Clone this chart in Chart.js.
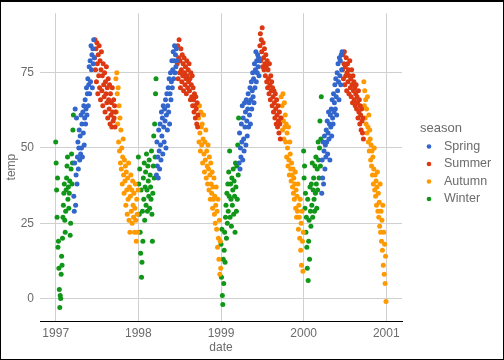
<!DOCTYPE html>
<html>
<head>
<meta charset="utf-8">
<script src="https://cdn.jsdelivr.net/npm/chart.js@4.4.1/dist/chart.umd.min.js"></script>
<style>
  body { margin: 0; background: #fff; }
  canvas { display: block; }
</style>
</head>
<body>
<canvas id="chart" width="504" height="360"></canvas>
<script>
// daily temperature, one value every 2 days
const years = [1997, 1998, 1999, 2000];
const seasons = ['Spring', 'Summer', 'Autumn', 'Winter'];
const seasonColors = ['#3366CC', '#DC3912', '#FF9900', '#109618'];
const seasonStartDay = [80, 172, 266, 0];
const dayStep = 2;

const springTemps = [
  [34, 29, 45, 63, 31, 41, 60, 38, 47, 52, 43, 50, 56, 46, 54, 48, 61, 50, 58, 47, 62, 55, 64, 51, 60, 66, 58, 63, 70, 61, 68, 73, 64, 71, 77, 68, 79, 72, 84, 76, 81, 70, 83, 78, 86, 80],
  [41, 52, 44, 47, 40, 56, 49, 43, 58, 51, 46, 62, 54, 60, 48, 64, 57, 52, 63, 59, 66, 50, 61, 68, 56, 64, 70, 62, 73, 58, 68, 75, 66, 72, 79, 70, 76, 82, 73, 79, 84, 75, 81, 77, 83, 79],
  [45, 55, 43, 50, 47, 58, 52, 64, 46, 60, 53, 49, 65, 57, 62, 51, 66, 59, 54, 63, 68, 57, 65, 61, 70, 58, 66, 72, 63, 69, 75, 67, 73, 65, 78, 70, 76, 82, 72, 79, 75, 81, 77, 80, 74, 79],
  [35, 46, 40, 52, 38, 49, 54, 43, 51, 47, 56, 52, 59, 48, 55, 62, 53, 58, 46, 61, 57, 63, 54, 66, 60, 58, 68, 62, 65, 71, 63, 73, 67, 61, 75, 69, 78, 72, 66, 80, 74, 79, 71, 81, 76, 82]
];
const summerTemps = [
  [80, 86, 76, 83, 72, 85, 78, 68, 81, 74, 84, 70, 79, 66, 76, 82, 69, 74, 64, 78, 71, 67, 75, 62, 72, 68, 77, 65, 70, 60, 73, 66, 63, 71, 58, 68, 61, 65, 57, 70, 62, 59, 66, 60, 64, 57, 62],
  [78, 84, 73, 80, 86, 75, 79, 70, 83, 76, 72, 81, 74, 78, 69, 80, 75, 71, 77, 73, 68, 79, 74, 70, 76, 72, 78, 69, 73, 66, 75, 71, 67, 74, 64, 70, 66, 62, 68, 64, 60, 67, 63, 58, 65, 57, 61],
  [84, 88, 79, 86, 82, 90, 77, 85, 80, 76, 83, 78, 74, 81, 77, 72, 79, 70, 76, 73, 68, 78, 71, 66, 74, 69, 72, 64, 70, 67, 62, 69, 65, 60, 68, 63, 58, 66, 61, 57, 64, 59, 55, 62, 58, 53, 60],
  [76, 81, 73, 78, 82, 71, 77, 74, 80, 69, 75, 78, 72, 76, 68, 74, 79, 70, 73, 67, 76, 71, 65, 74, 69, 72, 66, 70, 64, 68, 71, 63, 67, 65, 60, 69, 62, 66, 58, 64, 61, 56, 63, 59, 55, 60, 53]
];
const autumnTemps = [
  [73, 62, 75, 68, 58, 70, 52, 64, 49, 60, 45, 56, 43, 50, 38, 47, 53, 41, 35, 46, 39, 44, 31, 42, 36, 28, 40, 33, 45, 26, 37, 22, 34, 41, 29, 36, 25, 39, 31, 27, 35, 22, 30, 38, 26, 19, 33, 28, 22, 36],
  [60, 52, 64, 55, 49, 62, 57, 51, 58, 45, 53, 61, 48, 42, 52, 46, 56, 40, 49, 44, 38, 51, 43, 36, 47, 41, 33, 45, 38, 35, 42, 30, 37, 33, 40, 28, 34, 25, 31, 37, 23, 29, 17, 33, 20, 13, 26, 8, 19, 10],
  [67, 60, 64, 56, 68, 59, 53, 65, 57, 61, 52, 58, 47, 55, 50, 44, 57, 46, 41, 52, 48, 43, 39, 45, 41, 37, 43, 35, 40, 33, 38, 42, 30, 36, 27, 34, 29, 38, 23, 31, 27, 20, 33, 16, 25, 11, 29, 19, 9, 22],
  [72, 64, 69, 60, 66, 58, 63, 55, 67, 57, 52, 61, 49, 56, 53, 46, 51, 44, 49, 41, 47, 38, 43, 50, 36, 41, 34, 39, 31, 37, 42, 29, 35, 27, 32, 24, 38, 22, 29, 19, 26, 16, 31, 11, 22, 8, 18, 5, 14, -1]
];
const winterTemps = [
  [52, 45, 36, 27, 40, 17, 19, 10, 3, -3, 1, 0, 8, 14, 11, 20, 27, 31, 35, 38, 26, 22, 29, 36, 40, 44, 47, 33, 37, 30, 35, 39, 21, 25, 43, 48, 38, 45, 56, 61],
  [47, 38, 28, 43, 22, 15, 36, 7, 12, 29, 19, 40, 33, 45, 26, 37, 42, 31, 48, 36, 29, 44, 39, 34, 46, 30, 41, 37, 33, 49, 28, 19, 35, 44, 54, 40, 58, 47, 68, 73],
  [18, 7, 23, 1, -2, 13, 5, 16, 22, 12, 27, 31, 20, 35, 25, 38, 29, 42, 34, 49, 27, 38, 33, 24, 40, 31, 36, 43, 28, 39, 34, 22, 45, 37, 29, 44, 33, 51, 41, 60],
  [49, 40, 44, 30, 35, 22, 27, 17, 10, 33, 6, 19, 26, 13, 37, 29, 24, 38, 31, 45, 27, 36, 40, 33, 29, 44, 35, 47, 38, 30, 43, 36, 52, 46, 40, 50, 59, 44, 53, 67]
];
const seasonTemps = [springTemps, summerTemps, autumnTemps, winterTemps];

const xTicks = [1997, 1998, 1999, 2000, 2001];
const yTicks = [0, 25, 50, 75];

const textColor = '#6b6b6b';
const font = 'Arial, "Liberation Sans", sans-serif';

const datasets = seasons.map((name, s) => {
    const points = [];
    years.forEach((year, y) => {
        seasonTemps[s][y].forEach((temp, i) => {
            const day = seasonStartDay[s] + i * dayStep;
            points.push({ x: year + day / 365.25, y: temp });
        });
    });
    return {
        label: name,
        data: points,
        backgroundColor: seasonColors[s],
        borderWidth: 0,
        pointRadius: 2.5,
        pointHoverRadius: 2.5
    };
});

const decorations = {
    id: 'decorations',
    beforeDraw(chart) {
        const c = chart.ctx;
        c.save();
        c.fillStyle = '#fff';
        c.fillRect(0, 0, chart.width, chart.height);
        c.restore();
    },
    afterDraw(chart) {
        const c = chart.ctx;
        const area = chart.chartArea;
        c.save();
        // axis titles
        c.fillStyle = textColor;
        c.font = '12px ' + font;
        c.textAlign = 'center';
        c.textBaseline = 'middle';
        c.fillText('date', (area.left + area.right) / 2, 348);
        c.save();
        c.translate(12, (area.top + area.bottom) / 2);
        c.rotate(-Math.PI / 2);
        c.fillText('temp', 0, 0);
        c.restore();

        // legend
        c.textAlign = 'left';
        c.font = '13px ' + font;
        c.fillText('season', 420, 128);
        c.font = '12.5px ' + font;
        const rows = [146.5, 164, 181.5, 199];
        seasons.forEach((name, i) => {
            c.fillStyle = seasonColors[i];
            c.beginPath();
            c.arc(429, rows[i], 2.3, 0, Math.PI * 2);
            c.fill();
            c.fillStyle = textColor;
            c.fillText(name, 444, rows[i]);
        });

        // outer frame
        c.fillStyle = '#000';
        c.fillRect(0, 0, chart.width, 2);
        c.fillRect(0, 0, 1, chart.height);
        c.fillRect(chart.width - 1, 0, 1, chart.height);
        c.fillRect(0, chart.height - 1, chart.width, 1);
        c.restore();
    }
};

new Chart(document.getElementById('chart'), {
    type: 'scatter',
    data: { datasets: datasets },
    options: {
        responsive: false,
        animation: false,
        layout: { padding: { left: 0, top: 5, right: 102, bottom: 0 } },
        plugins: {
            legend: { display: false },
            tooltip: { enabled: false }
        },
        scales: {
            x: {
                type: 'linear',
                min: 1996.81,
                max: 2001.19,
                afterBuildTicks: (scale) => { scale.ticks = xTicks.map(v => ({ value: v })); },
                afterFit: (scale) => { scale.height = 39; },
                grid: { color: '#d0d0d0', lineWidth: 1, drawTicks: false },
                border: { display: true, color: '#000', width: 1 },
                ticks: {
                    color: textColor,
                    font: { family: font, size: 12 },
                    padding: 5,
                    maxRotation: 0,
                    autoSkip: false,
                    callback: (v) => String(v)
                }
            },
            y: {
                type: 'linear',
                min: -7.5,
                max: 94.8,
                afterBuildTicks: (scale) => { scale.ticks = yTicks.map(v => ({ value: v })); },
                afterFit: (scale) => { scale.width = 40; },
                grid: { color: '#d0d0d0', lineWidth: 1, drawTicks: false },
                border: { display: false },
                ticks: {
                    color: textColor,
                    font: { family: font, size: 12 },
                    padding: 6,
                    autoSkip: false,
                    callback: (v) => String(v)
                }
            }
        }
    },
    plugins: [decorations]
});
</script>
</body>
</html>
